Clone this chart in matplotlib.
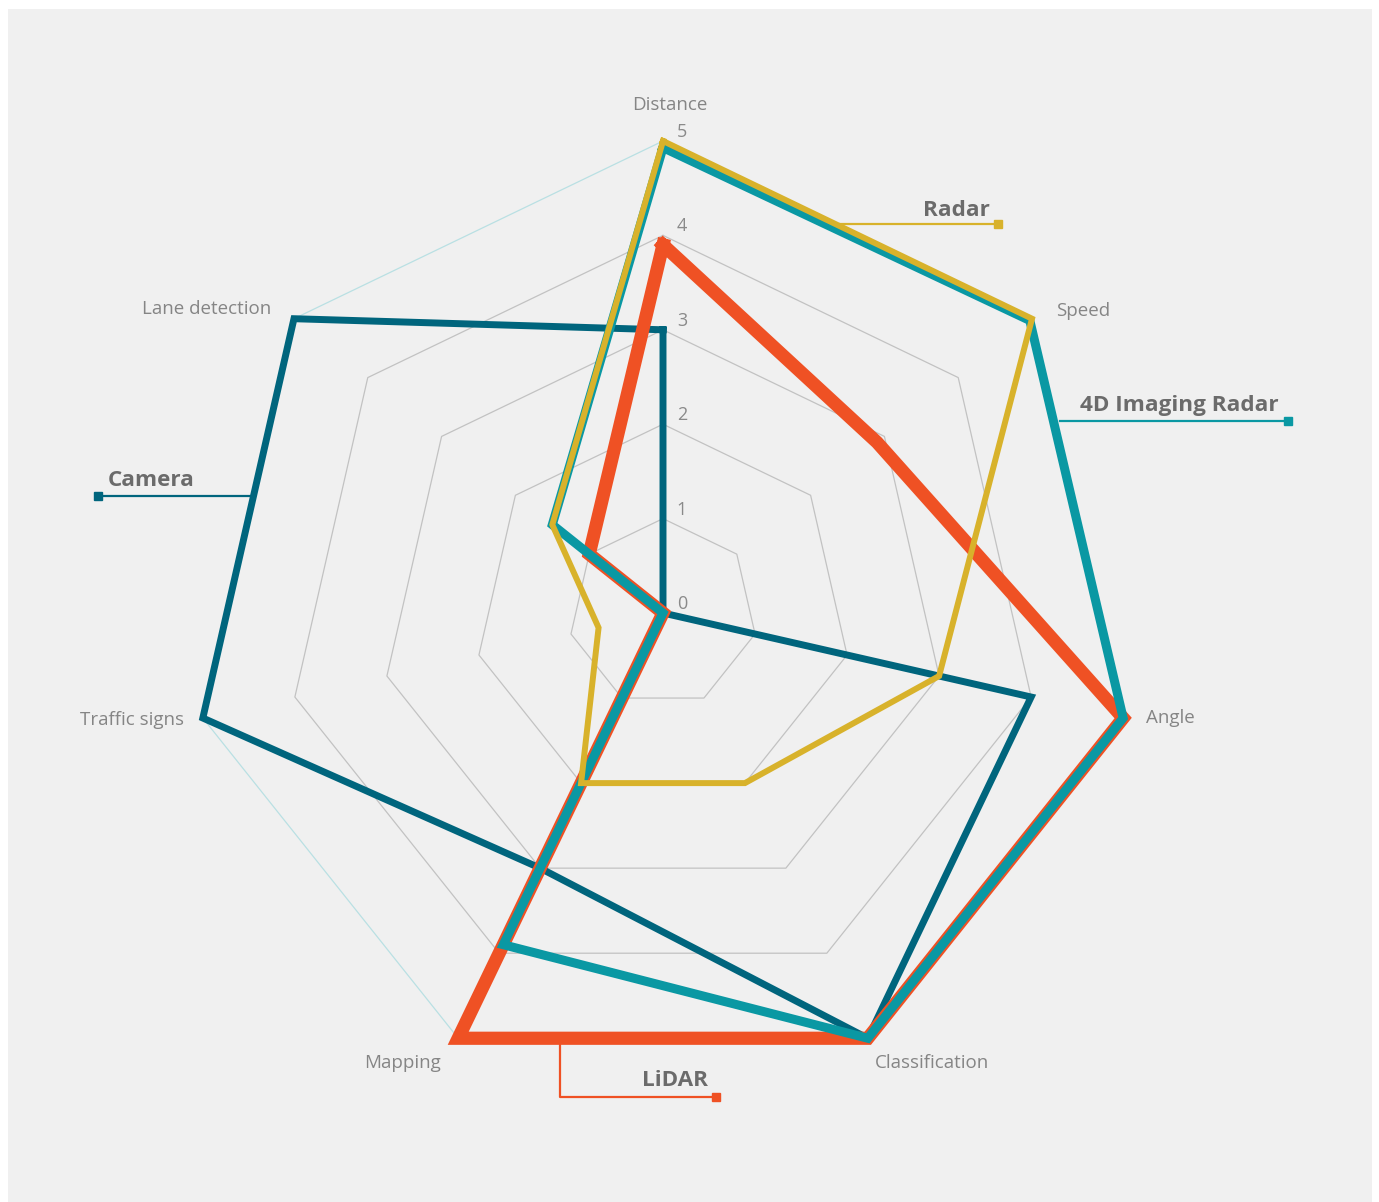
import numpy as np
import matplotlib.pyplot as plt
from matplotlib.patches import Rectangle

plt.rcParams['font.family'] = ['Open Sans', 'DejaVu Sans']

categories = ['Distance', 'Speed', 'Angle', 'Classification', 'Mapping',
              'Traffic signs', 'Lane detection']
levels = [0, 1, 2, 3, 4, 5]

# scores per category, same order as categories
camera = [3, 0, 4, 5, 3, 5, 5]
lidar = [3.9, 2.9, 5, 5, 5, 0, 1]
imaging_radar = [4.93, 4.97, 5, 5, 3.9, 0, 1.5]
radar = [5, 5, 3, 2, 2, 0.7, 1.5]

W, H = 1379, 1202
fig = plt.figure(figsize=(W / 100, H / 100), dpi=100, facecolor='white')

# overlay in pixel coords for background and legend leaders
bg = fig.add_axes([0, 0, 1, 1])
bg.set_xlim(0, W)
bg.set_ylim(H, 0)
bg.axis('off')
bg.add_patch(Rectangle((8, 9), 1364, 1193, color='#f0f0f0', lw=0))

cx, cy, R = 663, 613, 472
ax = fig.add_axes([(cx - R) / W, (H - cy - R) / H, 2 * R / W, 2 * R / H],
                  projection='polar')
ax.set_theta_zero_location('N')
ax.set_theta_direction(-1)
ax.set_ylim(0, 5)
ax.set_axis_off()

n = len(categories)
theta = np.linspace(0, 2 * np.pi, n, endpoint=False)
closed = np.append(theta, theta[0])

# grid polygons
for lv in levels[1:]:
    col = '#b9e0e3' if lv == 5 else '#c2c2c2'
    ax.plot(closed, [lv] * (n + 1), color=col, lw=0.9, clip_on=False, zorder=1)

# level numbers
for lv in levels:
    ax.annotate(str(lv), xy=(0, lv), xytext=(19, 9), textcoords='offset pixels',
                ha='center', va='center', fontsize=13, color='#8a8a8a',
                annotation_clip=False)

# category labels
offsets = [(7, 36, 'center'), (24, 8, 'left'), (23, 0, 'left'), (7, -25, 'left'),
           (-17, -25, 'right'), (-19, -2, 'right'), (-23, 10, 'right')]
for t, name, (dx, dy, ha) in zip(theta, categories, offsets):
    ax.annotate(name, xy=(t, 5), xytext=(dx, dy), textcoords='offset pixels',
                ha=ha, va='center', fontsize=13.5, color='#858585',
                annotation_clip=False)

c_camera = '#00657d'
c_lidar = '#ef5124'
c_4d = '#0a98a3'
c_radar = '#d8b22b'

series = [(camera, c_camera, 5.0), (lidar, c_lidar, 9.5),
          (imaging_radar, c_4d, 6.5), (radar, c_radar, 4.3)]
for vals, col, lw in series:
    ax.plot(closed, vals + vals[:1], color=col, lw=lw, solid_joinstyle='miter',
            clip_on=False, zorder=3)

# legend leaders
lab = dict(fontsize=16.2, fontweight='bold', color='#6b6b6b', va='center')

bg.plot([840, 998], [224, 224], color=c_radar, lw=1.6)
bg.plot([998], [224], marker='s', ms=5.5, color=c_radar)
bg.text(990, 210, 'Radar', ha='right', **lab)

bg.plot([1060, 1288], [421, 421], color=c_4d, lw=1.6)
bg.plot([1288], [421], marker='s', ms=5.5, color=c_4d)
bg.text(1279, 405, '4D Imaging Radar', ha='right', **lab)

bg.plot([98, 255], [496, 496], color=c_camera, lw=1.6)
bg.plot([98], [496], marker='s', ms=5.5, color=c_camera)
bg.text(108, 481, 'Camera', ha='left', **lab)

bg.plot([560, 560, 716], [1040, 1097, 1097], color=c_lidar, lw=1.6)
bg.plot([716], [1097], marker='s', ms=5.5, color=c_lidar)
bg.text(708, 1081, 'LiDAR', ha='right', **lab)

fig.savefig('out.png', dpi=100, facecolor='white')
